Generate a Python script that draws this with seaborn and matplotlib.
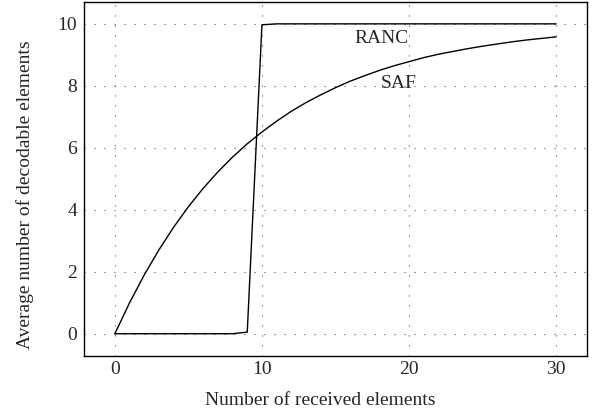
import matplotlib
matplotlib.use("Agg")
import matplotlib.pyplot as plt
import seaborn as sns
import pandas as pd
import numpy as np

received = list(range(0, 31))
saf = [0.0, 1.0, 1.9, 2.71, 3.44, 4.10, 4.69, 5.22, 5.70, 6.13, 6.51, 6.86, 7.18,
       7.46, 7.71, 7.94, 8.15, 8.33, 8.50, 8.65, 8.78, 8.91, 9.02, 9.11, 9.20,
       9.28, 9.35, 9.42, 9.48, 9.53, 9.58]
ranc = [0, 0, 0, 0, 0, 0, 0, 0, 0, 0.05, 9.97, 10, 10, 10, 10, 10, 10, 10, 10,
        10, 10, 10, 10, 10, 10, 10, 10, 10, 10, 10, 10]
series_names = ["RANC", "SAF"]
xticks = [0, 10, 20, 30]
yticks = [0, 2, 4, 6, 8, 10]

df = pd.DataFrame({
    "x": received * 2,
    "y": ranc + saf,
    "series": [series_names[0]] * len(received) + [series_names[1]] * len(received),
})

sns.set_style("white")
plt.rcParams["font.family"] = ["Liberation Serif", "DejaVu Serif"]
plt.rcParams["mathtext.fontset"] = "stix"

fig = plt.figure(figsize=(5.97, 4.13), dpi=100)
ax = fig.add_axes([0.1407, 0.1387, 0.8425, 0.8553])

sns.lineplot(data=df, x="x", y="y", units="series", estimator=None,
             color="black", linewidth=1.0, legend=False, ax=ax, zorder=3)

ax.set_xlim(-2.1, 32.1)
ax.set_ylim(-0.71, 10.69)
ax.set_xticks(xticks)
ax.set_yticks(yticks)
ax.tick_params(axis="x", length=0, labelsize=14, pad=4)
ax.tick_params(axis="y", length=0, labelsize=14, pad=5)
ax.grid(True, color="#555555", linewidth=0.8, linestyle=(0, (1, 8)))
for s in ax.spines.values():
    s.set_color("black")
    s.set_linewidth(1.0)

ax.set_xlabel("Number of received elements", fontsize=14, labelpad=10)
ax.set_ylabel("Average number of decodable elements", fontsize=14, labelpad=17)
ax.xaxis.label.set_x(0.47)
ax.yaxis.label.set_y(0.455)

ax.text(18.15, 9.52, "RANC", fontsize=14, ha="center", va="center")
ax.text(19.3, 8.09, "SAF", fontsize=14, ha="center", va="center")

fig.savefig("out.png", dpi=100)
